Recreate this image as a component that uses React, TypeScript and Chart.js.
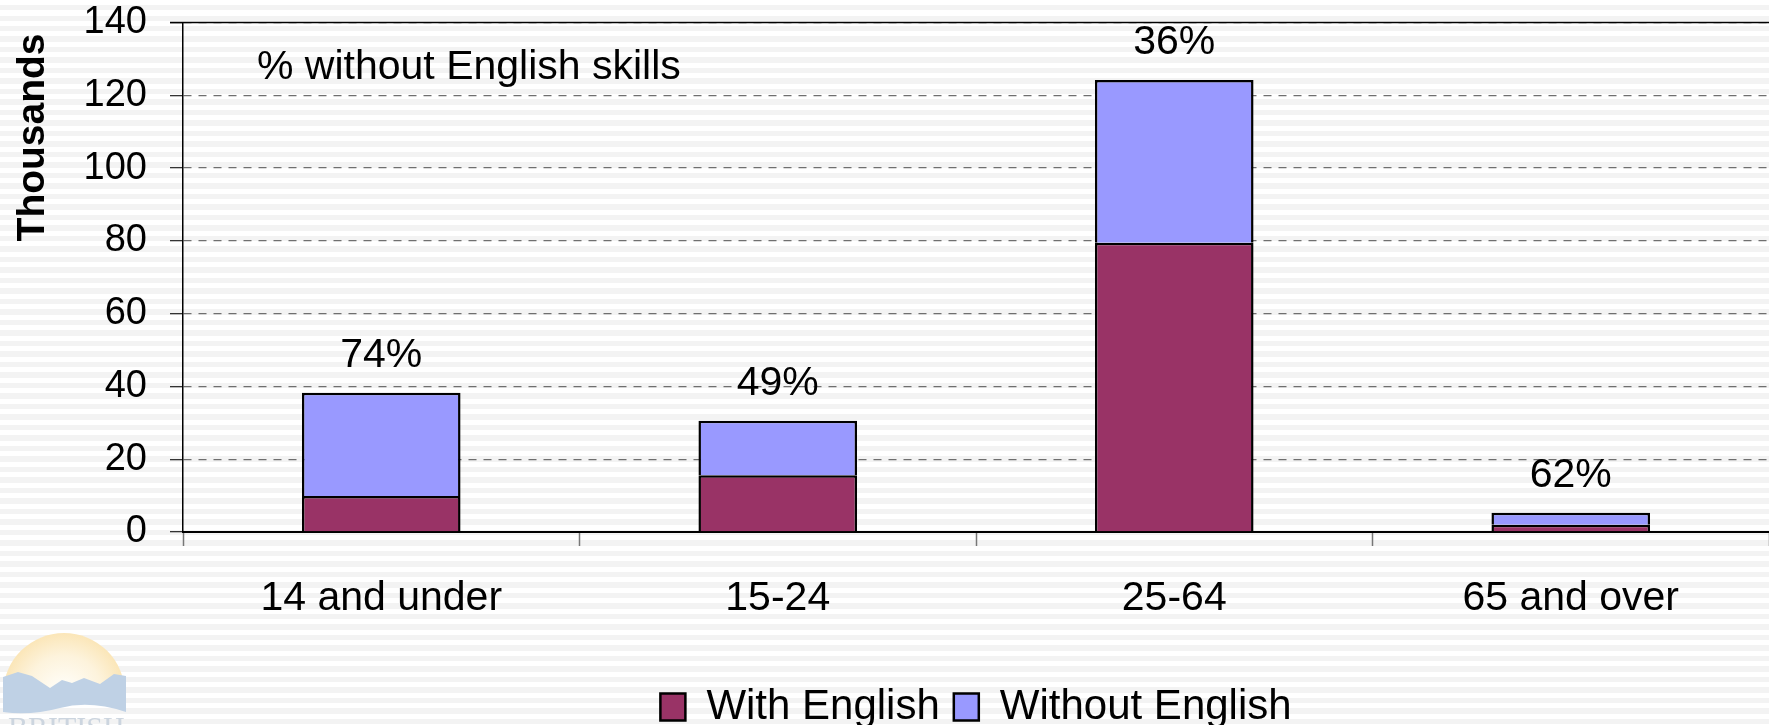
import React, { useEffect, useRef } from "react";
import { Chart, registerables } from "chart.js";

Chart.register(...registerables);

const categories = ["14 and under", "15-24", "25-64", "65 and over"];
const withEnglish = [9.9, 15.6, 79.5, 2.0];
const withoutEnglish = [28.4, 15.0, 44.7, 3.3];
const pctLabels = ["74%", "49%", "36%", "62%"];
const yTickValues = [0, 20, 40, 60, 80, 100, 120, 140];
const seriesNames = ["With English", "Without English"];
const noteText = "% without English skills";
const yTitle = "Thousands ";

const FONT = "'Liberation Sans', Arial, Helvetica, sans-serif";

const decorPlugin = {
  id: "decor",
  beforeDraw(chart: any) {
    const ctx = chart.ctx as CanvasRenderingContext2D;
    ctx.save();
    // faint logo in lower-left corner
    const cx = 64, cy = 694, r = 61;
    const g = ctx.createRadialGradient(cx, cy, 5, cx, cy, r);
    g.addColorStop(0, "#fffefa");
    g.addColorStop(0.6, "#fdf3dc");
    g.addColorStop(1, "#fbe6b8");
    ctx.fillStyle = g;
    ctx.beginPath();
    ctx.arc(cx, cy, r, Math.PI, 2 * Math.PI);
    ctx.closePath();
    ctx.fill();
    ctx.fillStyle = "#bfd1e5";
    ctx.beginPath();
    ctx.moveTo(3, 712);
    ctx.lineTo(3, 677);
    ctx.lineTo(18, 672);
    ctx.lineTo(32, 676);
    ctx.lineTo(50, 688);
    ctx.lineTo(62, 680);
    ctx.lineTo(72, 683);
    ctx.lineTo(84, 678);
    ctx.lineTo(100, 684);
    ctx.lineTo(114, 674);
    ctx.lineTo(126, 676);
    ctx.lineTo(126, 712);
    ctx.quadraticCurveTo(90, 700, 60, 708);
    ctx.quadraticCurveTo(30, 716, 3, 712);
    ctx.closePath();
    ctx.fill();
    ctx.fillStyle = "#ccd5df";
    ctx.font = "30px 'Liberation Serif', serif";
    ctx.textBaseline = "top";
    ctx.fillText("BRITISH", 8, 714);
    ctx.restore();
  },
  afterDraw(chart: any) {
    const ctx = chart.ctx as CanvasRenderingContext2D;
    const { left, right, top } = chart.chartArea;
    ctx.save();
    // solid top frame line
    ctx.strokeStyle = "#000";
    ctx.lineWidth = 1.5;
    ctx.beginPath();
    ctx.moveTo(left - 13, top);
    ctx.lineTo(right, top);
    ctx.stroke();
    // percentage labels above stacks
    const meta = chart.getDatasetMeta(1);
    ctx.fillStyle = "#000";
    ctx.font = `41px ${FONT}`;
    ctx.textAlign = "center";
    ctx.textBaseline = "middle";
    meta.data.forEach((bar: any, i: number) => {
      ctx.fillText(pctLabels[i], bar.x, bar.y - 37);
    });
    // note text
    ctx.textAlign = "left";
    ctx.fillText(noteText, left + 74, top + 45);
    ctx.restore();
  },
};

export default function App() {
  const ref = useRef<HTMLCanvasElement>(null);

  useEffect(() => {
    const chart = new Chart(ref.current!, {
      type: "bar",
      data: {
        labels: categories,
        datasets: [
          {
            label: seriesNames[0],
            data: withEnglish,
            backgroundColor: "#993366",
            borderColor: "#000",
            borderWidth: 2.5,
          },
          {
            label: seriesNames[1],
            data: withoutEnglish,
            backgroundColor: "#9999FF",
            borderColor: "#000",
            borderWidth: 2.5,
          },
        ],
      },
      options: {
        responsive: false,
        animation: false,
        devicePixelRatio: 1,
        layout: { padding: { top: 22.6, right: 0, left: 0, bottom: 2 } },
        datasets: {
          bar: { categoryPercentage: 0.8, barPercentage: 0.5 },
        },
        plugins: {
          tooltip: { enabled: false },
          legend: {
            position: "bottom",
            fullSize: false,
            labels: {
              color: "#000",
              font: { size: 42, family: FONT },
              boxWidth: 25,
              boxHeight: 27,
              padding: 14,
            },
          },
        },
        scales: {
          x: {
            stacked: true,
            grid: {
              display: true,
              drawOnChartArea: false,
              drawTicks: true,
              tickLength: 14,
              offset: true,
              tickColor: "#777",
              tickWidth: 1.5,
            },
            border: { display: true, color: "#000", width: 2 },
            ticks: {
              color: "#000",
              font: { size: 41, family: FONT },
              padding: 28,
            },
            afterFit: (scale: any) => {
              scale.height = 140;
            },
          },
          y: {
            stacked: true,
            min: 0,
            max: 140,
            afterBuildTicks: (scale: any) => {
              scale.ticks = yTickValues.map((v) => ({ value: v }));
            },
            grid: {
              color: "#6f6f6f",
              lineWidth: 1.3,
              tickLength: 13,
              tickColor: "#333",
              tickWidth: 1.3,
            },
            border: { display: true, color: "#000", width: 1.5, dash: [8, 7] },
            ticks: {
              color: "#000",
              font: { size: 38, family: FONT },
              padding: 23,
            },
            title: {
              display: true,
              text: yTitle,
              align: "end",
              color: "#000",
              font: { size: 39, weight: "bold", family: FONT },
              padding: { top: 10, bottom: 0 },
            },
            afterFit: (scale: any) => {
              scale.width = 183;
              scale.paddingTop = 0;
              scale.paddingBottom = 0;
            },
          },
        },
      },
      plugins: [decorPlugin],
    } as any);
    return () => chart.destroy();
  }, []);

  return (
    <div
      style={{
        position: "absolute",
        left: 0,
        top: 0,
        width: 1769,
        height: 725,
        overflow: "hidden",
        background:
          "repeating-linear-gradient(to bottom, #ffffff 0px, #ffffff 5px, #f3f3f3 5px, #f3f3f3 10.5px)",
      }}
    >
      <canvas ref={ref} width={1769} height={740} style={{ display: "block" }} />
    </div>
  );
}
